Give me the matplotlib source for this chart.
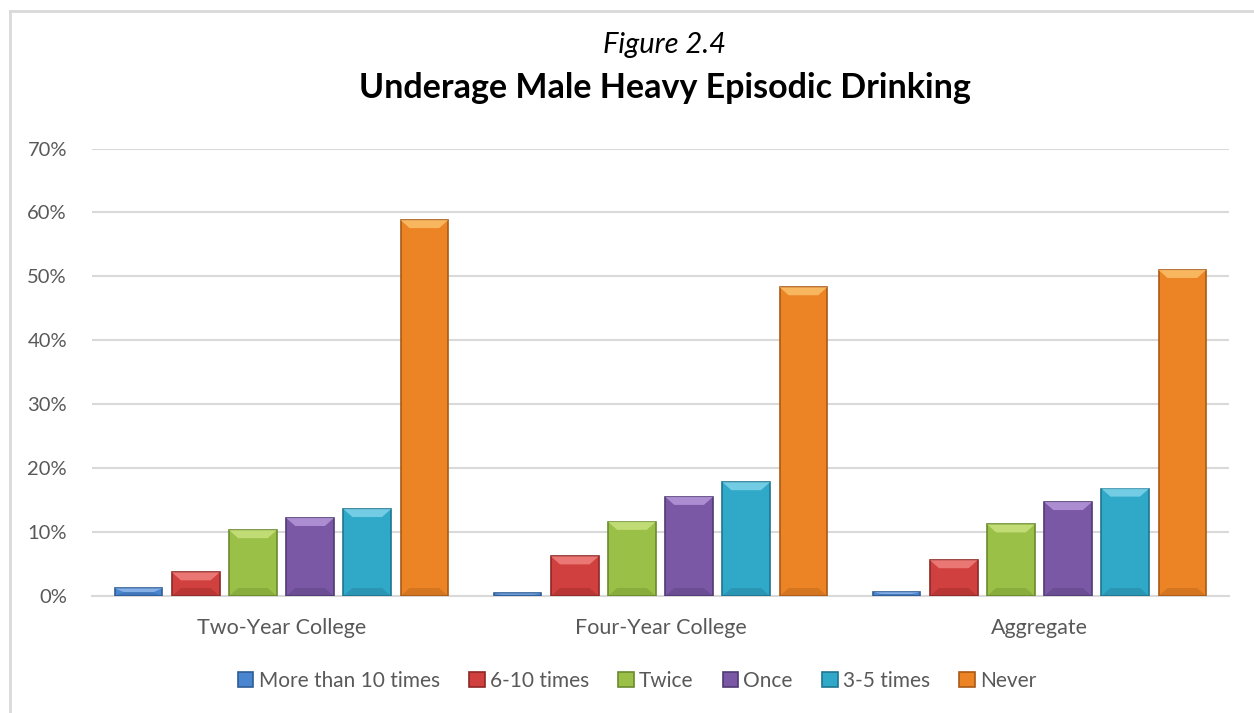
import matplotlib.pyplot as plt
from matplotlib.lines import Line2D
from matplotlib.patches import Polygon
import numpy as np

# data
categories = ["Two-Year College", "Four-Year College", "Aggregate"]
series = ["More than 10 times", "6-10 times", "Twice", "Once", "3-5 times", "Never"]
more_than_10 = [1.2, 0.4, 0.6]
six_to_ten = [3.7, 6.2, 5.6]
twice = [10.3, 11.6, 11.2]
once = [12.2, 15.5, 14.7]
three_to_five = [13.6, 17.8, 16.8]
never = [58.8, 48.3, 51.0]

values = [more_than_10, six_to_ten, twice, once, three_to_five, never]
colors = ["#4A85D0", "#D0403E", "#9BC047", "#7B58A6", "#30A8C8", "#EC8426"]
lights = ["#8FB8EC", "#F08280", "#C8E27E", "#B597DA", "#7DD3EA", "#FBBF6A"]
edges = ["#2F5C95", "#8E2826", "#6A8A2C", "#4F3A73", "#1F7590", "#A95A16"]

plt.rcParams["font.family"] = ["Lato", "DejaVu Sans"]

fig = plt.figure(figsize=(12.54, 7.13), dpi=100)
ax = fig.add_axes([92 / 1254, 117 / 713, 1137 / 1254, 447.5 / 713])

x = np.arange(len(categories))
step = 0.1508
width = 0.1255
px_x = 3 / 1137          # data units per pixel, x
px_y = 0.7 / 447.5       # data units per pixel, y
for i, (vals, c, lt, e, name) in enumerate(zip(values, colors, lights, edges, series)):
    bars = ax.bar(x + (i - 2.5) * step, [v / 100 for v in vals], width, color=c,
                  edgecolor=e, linewidth=1.2, label=name, zorder=3)
    # bevel: lighter top cap, darker bottom strip
    for r in bars:
        x0, w, h = r.get_x(), r.get_width(), r.get_height()
        by = min(8 * px_y, h / 2)
        bx = min(9 * px_x, w / 2)
        top = Polygon([(x0, h), (x0 + w, h), (x0 + w - bx, h - by), (x0 + bx, h - by)],
                      closed=True, facecolor=lt, edgecolor="none", alpha=0.85, zorder=4)
        bot = Polygon([(x0, 0), (x0 + w, 0), (x0 + w - bx, by), (x0 + bx, by)],
                      closed=True, facecolor=e, edgecolor="none", alpha=0.35, zorder=4)
        ax.add_patch(top)
        ax.add_patch(bot)

ax.set_xlim(-0.5, 2.5)
ax.set_ylim(0, 0.7)
ticks = np.arange(0, 0.71, 0.1)
ax.set_yticks(ticks)
ax.set_yticklabels([f"{int(round(t * 100))}%" for t in ticks])
ax.set_xticks(x)
ax.set_xticklabels(categories)
ax.tick_params(axis="y", length=0, pad=18, labelsize=14.5, labelcolor="#595959")
ax.tick_params(axis="x", length=0, pad=16, labelsize=15.5, labelcolor="#595959")
ax.grid(axis="y", color="#D9D9D9", linewidth=1.5, zorder=0)
for s in ["top", "right", "left"]:
    ax.spines[s].set_visible(False)
ax.spines["bottom"].set_color("#D9D9D9")
ax.spines["bottom"].set_linewidth(1.5)

fig.text(0.53, 1 - 45 / 713, "Figure 2.4", ha="center", va="center",
         fontsize=21, style="italic", color="black")
fig.text(0.53, 1 - 88 / 713, "Underage Male Heavy Episodic Drinking", ha="center",
         va="center", fontsize=24.5, weight="bold", color="black")

ax.legend(loc="center", bbox_to_anchor=(637 / 1254, 1 - 681 / 713),
          bbox_transform=fig.transFigure, ncol=6, frameon=False, fontsize=15,
          labelcolor="#595959", handlelength=0.75, handleheight=0.75,
          handletextpad=0.25, columnspacing=1.4)

# chart frame (only left and top edges fall inside the picture)
fig.add_artist(Line2D([10 / 1254, 10 / 1254], [0, 1 - 11 / 713],
                      transform=fig.transFigure, color="#D9D9D9", linewidth=2))
fig.add_artist(Line2D([10 / 1254, 1], [1 - 11 / 713, 1 - 11 / 713],
                      transform=fig.transFigure, color="#D9D9D9", linewidth=2))

fig.savefig("out.png", dpi=100, facecolor="white")
